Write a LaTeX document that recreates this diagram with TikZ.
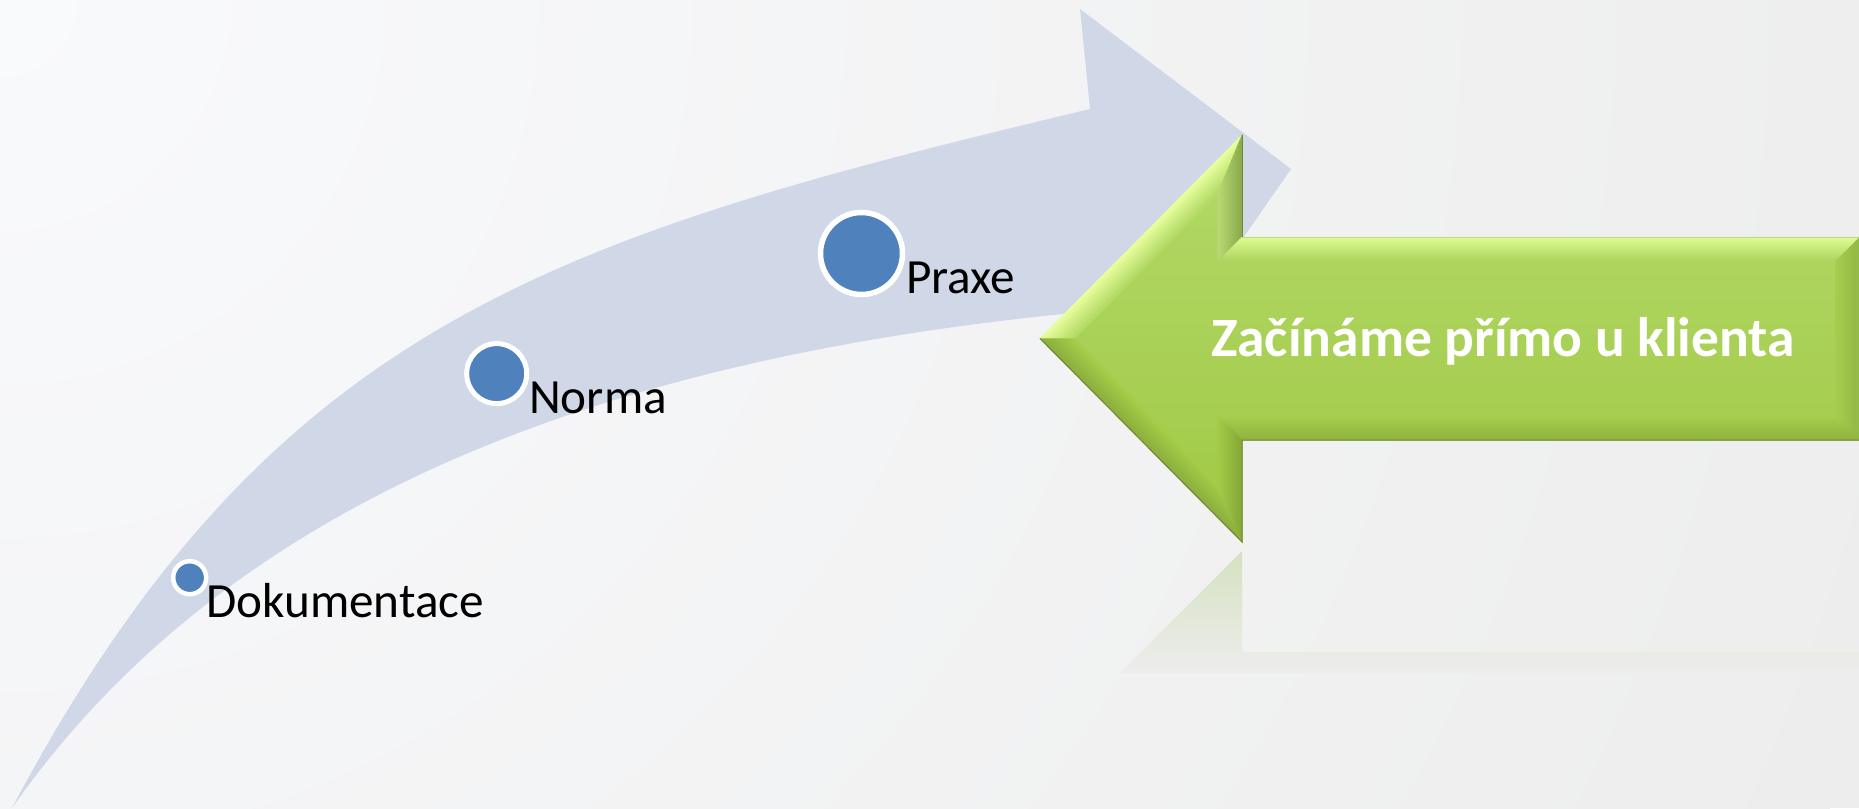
\documentclass[tikz,border=0pt]{standalone}
\usepackage{fontspec}
\setmainfont{Carlito}
\definecolor{bgc}{HTML}{EDEDED}
\definecolor{bgl}{HTML}{F9FAFC}
\definecolor{arrowblue}{HTML}{D0D8E8}
\definecolor{dotblue}{HTML}{4F81BD}
\definecolor{gtop}{HTML}{B4D96A}
\definecolor{gmid}{HTML}{A9D152}
\definecolor{gbot}{HTML}{A0C944}
\definecolor{eA}{HTML}{E8FF9F}\definecolor{iA}{HTML}{B5DB68}
\definecolor{eB}{HTML}{8BAA4C}\definecolor{iB}{HTML}{B6D870}
\definecolor{eC}{HTML}{DDFC93}\definecolor{iC}{HTML}{AFD660}
\definecolor{eD}{HTML}{93B845}\definecolor{iD}{HTML}{A5CC4E}
\definecolor{eE}{HTML}{90B43F}\definecolor{iE}{HTML}{A6CD4B}
\definecolor{eF}{HTML}{86A839}\definecolor{iF}{HTML}{A3CB45}
\definecolor{eG}{HTML}{8CAE3E}\definecolor{iG}{HTML}{A5CD48}
\definecolor{reflc}{HTML}{D5E1C0}
\definecolor{gline}{HTML}{6A8A2C}
\begin{document}
\begin{tikzpicture}[x=1pt,y=-1pt,
  dotc/.style={circle, fill=dotblue, draw=white, inner sep=0pt},
  lbl/.style={anchor=base west, inner sep=0pt, text=black, font=\fontsize{49.2}{59}\selectfont},
  gtxt/.style={anchor=base west, inner sep=0pt, text=white, font=\bfseries\fontsize{55.5}{66}\selectfont},
  strip/.style={line width=0.5pt, line join=miter}]
\useasboundingbox (0,0) rectangle (1859,808);
% background
\fill[bgc] (0,0) rectangle (1859,808);
\begin{scope}
  \clip (0,0) rectangle (1859,808);
  \shade[inner color=bgl, outer color=bgc] (0,0) circle[radius=2000pt];
\end{scope}
% big curved arrow
\fill[arrowblue] (12,808) .. controls (270,322) and (555,237) .. (1090,109)
  -- (1080,9) -- (1291,169) -- (1200,300) -- (1100,311) -- (1053,315)
  .. controls (605,362) and (230,497) .. (12,808) -- cycle;
% dots and labels
\node[dotc, minimum size=82pt, line width=5.5pt] (dpraxe) at (861.5,253.5) {};
\node[dotc, minimum size=60pt, line width=5pt] (dnorma) at (496.7,373.6) {};
\node[dotc, minimum size=33pt, line width=4.5pt] (ddok) at (189.7,577.7) {};
\node[lbl] (tpraxe) at (906,293) {Praxe};
\node[lbl] (tnorma) at (529,413.8) {Norma};
\node[lbl] (tdok) at (206,617.5) {Dokumentace};
% reflection of green arrow
\shade[top color=reflc, bottom color=bgc] (1242,551) -- (1242,652) -- (1860,652) -- (1860,673) -- (1120,673) -- cycle;
% green arrow body
\shade[top color=gtop, middle color=gmid, bottom color=gbot]
  (1040,338.5) -- (1242,135) -- (1242,237) -- (1860,237) -- (1860,440) -- (1242,440) -- (1242,542) -- cycle;
% bevel faces
\foreach \k in {0,...,11}{
  \pgfmathsetmacro\ta{2*\k}
  \pgfmathsetmacro\tb{2*\k+2.4}
  \pgfmathtruncatemacro\pc{100-9*\k}
  \coordinate (p1a) at ({1040+1.4142*\ta},338.5);
  \coordinate (p2a) at ({1242-\ta},{135+2.4142*\ta});
  \coordinate (p3a) at ({1242-\ta},{237+\ta});
  \coordinate (p4a) at ({1860-\ta},{237+\ta});
  \coordinate (p5a) at ({1860-\ta},{440-\ta});
  \coordinate (p6a) at ({1242-\ta},{440-\ta});
  \coordinate (p7a) at ({1242-\ta},{542-2.4142*\ta});
  \coordinate (p1b) at ({1040+1.4142*\tb},338.5);
  \coordinate (p2b) at ({1242-\tb},{135+2.4142*\tb});
  \coordinate (p3b) at ({1242-\tb},{237+\tb});
  \coordinate (p4b) at ({1860-\tb},{237+\tb});
  \coordinate (p5b) at ({1860-\tb},{440-\tb});
  \coordinate (p6b) at ({1242-\tb},{440-\tb});
  \coordinate (p7b) at ({1242-\tb},{542-2.4142*\tb});
  \filldraw[strip, fill=eA!\pc!iA, draw=eA!\pc!iA] (p1a) -- (p2a) -- (p2b) -- (p1b) -- cycle;
  \filldraw[strip, fill=eB!\pc!iB, draw=eB!\pc!iB] (p2a) -- (p3a) -- (p3b) -- (p2b) -- cycle;
  \filldraw[strip, fill=eC!\pc!iC, draw=eC!\pc!iC] (p3a) -- (p4a) -- (p4b) -- (p3b) -- cycle;
  \filldraw[strip, fill=eD!\pc!iD, draw=eD!\pc!iD] (p4a) -- (p5a) -- (p5b) -- (p4b) -- cycle;
  \filldraw[strip, fill=eE!\pc!iE, draw=eE!\pc!iE] (p5a) -- (p6a) -- (p6b) -- (p5b) -- cycle;
  \filldraw[strip, fill=eF!\pc!iF, draw=eF!\pc!iF] (p6a) -- (p7a) -- (p7b) -- (p6b) -- cycle;
  \filldraw[strip, fill=eG!\pc!iG, draw=eG!\pc!iG] (p7a) -- (p1a) -- (p1b) -- (p7b) -- cycle;
}
% outline
\draw[line width=1pt, color=gline] (1860,440) -- (1242,440) -- (1242,542) -- (1040,338.5);
\draw[line width=1pt, color=gline] (1242,135) -- (1242,237);
\draw[line width=0.8pt, color=eC!70!gray] (1242,237) -- (1860,237);
% label
\node[gtxt] (tgreen) at (1211,356) {Začínáme přímo u klienta};
\end{tikzpicture}
\end{document}
